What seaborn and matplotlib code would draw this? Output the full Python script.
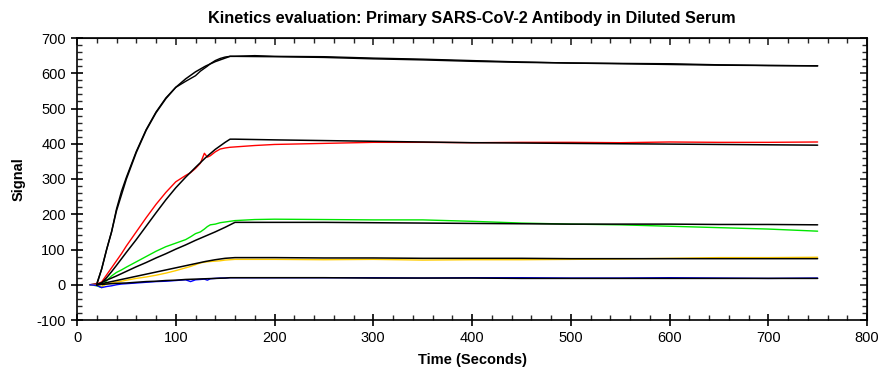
import pandas as pd
import seaborn as sns
import matplotlib.pyplot as plt
from matplotlib.ticker import MultipleLocator

# raw sensorgrams (time in seconds)
t_raw = [13, 20, 25, 30, 35, 40, 45, 50, 60, 70, 80, 90, 100, 110, 115, 120, 125, 129, 132, 135,
         140, 145, 150, 155, 160, 180, 200, 250, 300, 350, 400, 450, 500, 550, 600, 650, 700, 750]
raw_top = [0, 3, 45, 100, 150, 215, 265, 305, 378, 440, 490, 530, 560, 577, 585, 593, 606, 614, 620, 627,
           636, 642, 646, 648, 648, 650, 648, 647, 643, 640, 636, 632, 629, 628, 627, 624, 622, 621]
raw_red = [0, 2, 8, 28, 48, 68, 88, 110, 150, 190, 228, 262, 292, 310, 318, 330, 345, 373, 362, 366,
           377, 385, 388, 390, 391, 395, 398, 401, 404, 404, 403, 404, 404, 403, 405, 404, 404, 405]
raw_green = [0, -3, -8, 12, 25, 35, 42, 50, 65, 80, 95, 108, 118, 128, 136, 145, 150, 158, 165, 170,
             172, 176, 178, 180, 182, 185, 186, 185, 184, 184, 180, 175, 172, 170, 166, 162, 158, 152]
raw_yellow = [0, -2, -5, 2, 5, 8, 10, 13, 18, 22, 27, 33, 40, 48, 52, 57, 62, 64, 65, 66,
              67, 68, 70, 71, 72, 72, 72, 71, 72, 70, 71, 71, 72, 73, 75, 77, 77, 78]
raw_blue = [0, -2, -8, -5, -3, 0, 2, 3, 5, 7, 9, 10, 12, 14, 9, 14, 15, 16, 13, 17,
            18, 19, 19, 20, 20, 20, 20, 20, 20, 19, 20, 20, 19, 19, 20, 19, 18, 19]

# fitted curves
t_fit = [20, 25, 30, 35, 40, 50, 60, 70, 80, 90, 100, 110, 120, 130, 140, 150, 155,
         160, 200, 250, 300, 350, 400, 450, 500, 550, 600, 650, 700, 750]
fit_top = [0, 45, 100, 150, 210, 300, 375, 438, 488, 528, 560, 584, 604, 620, 633, 643, 648,
           648, 647, 645, 641, 638, 634, 631, 629, 627, 625, 623, 622, 621]
fit_red = [0, 5, 20, 37, 55, 92, 128, 166, 204, 241, 275, 305, 333, 360, 384, 404, 413,
           413, 411, 409, 407, 405, 403, 402, 401, 400, 399, 398, 397, 396]
fit_green = [0, 6, 13, 19, 25, 38, 51, 63, 76, 88, 101, 113, 126, 138, 150, 163, 170,
             177, 177, 177, 176, 175, 174, 173, 172, 172, 172, 171, 171, 170]
fit_yellow = [0, 3, 6, 9, 12, 18, 24, 30, 36, 42, 48, 54, 60, 66, 71, 75, 76,
              77, 77, 76, 76, 75, 75, 75, 74, 74, 74, 74, 74, 74]
fit_blue = [0, 1, 2, 3, 4, 5, 7, 9, 10, 12, 13, 15, 16, 17, 18, 19, 20,
            20, 20, 20, 19, 19, 19, 18, 18, 18, 18, 18, 18, 18]

raw_series = [raw_top, raw_red, raw_green, raw_yellow, raw_blue]
fit_series = [fit_top, fit_red, fit_green, fit_yellow, fit_blue]
raw_colors = ["#000000", "#ff0000", "#00e600", "#ffcc00", "#0000ff"]

sns.set_style("ticks")
plt.rcParams['font.family'] = ['Liberation Sans', 'DejaVu Sans']
plt.rcParams['text.color'] = 'black'
plt.rcParams['axes.labelcolor'] = 'black'
plt.rcParams['axes.unicode_minus'] = False

fig = plt.figure(figsize=(8.92, 3.8), dpi=100)
ax = fig.add_axes([77 / 892, 1 - 320 / 380, 790 / 892, 282 / 380])

for y, c in zip(raw_series, raw_colors):
    df = pd.DataFrame({"time": t_raw, "signal": y})
    sns.lineplot(data=df, x="time", y="signal", color=c, linewidth=1.0, ax=ax)

for y in fit_series:
    df = pd.DataFrame({"time": t_fit, "signal": y})
    sns.lineplot(data=df, x="time", y="signal", color="black", linewidth=1.1, ax=ax)

ax.set_xlim(0, 800)
ax.set_ylim(-100, 700)
ax.xaxis.set_major_locator(MultipleLocator(100))
ax.xaxis.set_minor_locator(MultipleLocator(20))
ax.yaxis.set_major_locator(MultipleLocator(100))
ax.yaxis.set_minor_locator(MultipleLocator(20))
ax.tick_params(which="major", direction="inout", length=9, width=1.2, labelsize=10.5, colors="black")
ax.tick_params(which="minor", direction="in", length=3.5, width=1.0)

for s in ax.spines.values():
    s.set_linewidth(1.2)
    s.set_color("black")

# inward ticks on the top and right sides
top = ax.secondary_xaxis("top")
top.xaxis.set_major_locator(MultipleLocator(100))
top.xaxis.set_minor_locator(MultipleLocator(20))
top.tick_params(which="major", direction="in", length=5, width=1.2, labeltop=False)
top.tick_params(which="minor", direction="in", length=3.5, width=1.0)
right = ax.secondary_yaxis("right")
right.yaxis.set_major_locator(MultipleLocator(100))
right.yaxis.set_minor_locator(MultipleLocator(20))
right.tick_params(which="major", direction="in", length=5, width=1.2, labelright=False)
right.tick_params(which="minor", direction="in", length=3.5, width=1.0)

ax.set_xlabel("Time (Seconds)", fontsize=10.5, fontweight="bold", labelpad=6)
ax.set_ylabel("Signal", fontsize=10.5, fontweight="bold", labelpad=8)
ax.set_title("Kinetics evaluation: Primary SARS-CoV-2 Antibody in Diluted Serum",
             fontsize=11.7, fontweight="bold", pad=11)

plt.savefig("out.png", dpi=100)
